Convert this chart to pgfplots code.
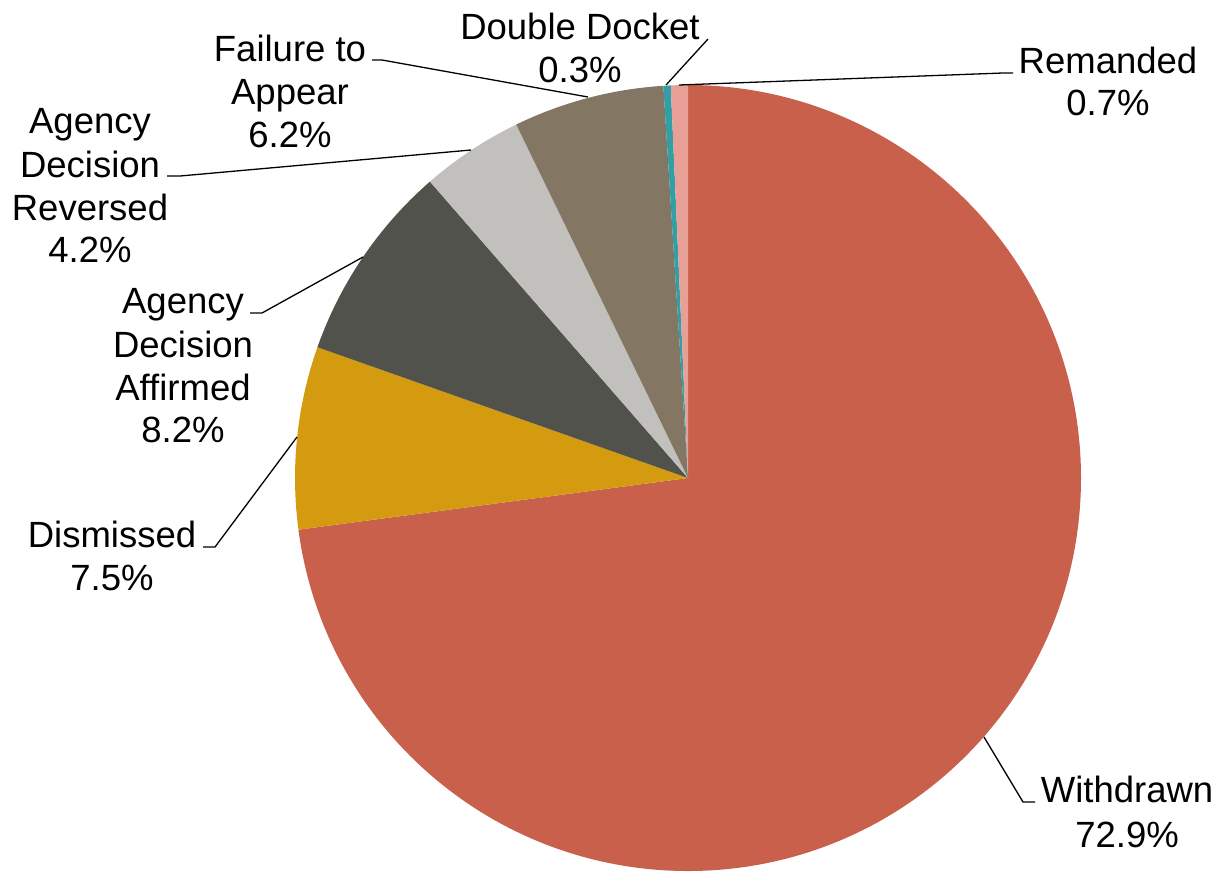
\documentclass[border=0pt]{standalone}
\usepackage{pgfplots}
\pgfplotsset{compat=1.18}
\usepackage{pgfplotstable}
\usepackage{fontspec}
\setmainfont{Liberation Sans}

\definecolor{cWithdrawn}{RGB}{200,96,75}
\definecolor{cDismissed}{RGB}{212,155,16}
\definecolor{cAffirmed}{RGB}{82,82,77}
\definecolor{cReversed}{RGB}{193,192,188}
\definecolor{cFailure}{RGB}{131,118,99}
\definecolor{cDouble}{RGB}{50,158,165}
\definecolor{cRemanded}{RGB}{232,160,150}

% shares in percent, clockwise from 12 o'clock
\pgfplotstableread{
value colour
72.9  cWithdrawn
7.5   cDismissed
8.2   cAffirmed
4.2   cReversed
6.2   cFailure
0.3   cDouble
0.7   cRemanded
}\piedata

\newcommand\startangle{90}

\begin{document}
\begin{tikzpicture}[font=\fontsize{36.5}{42}\selectfont]
\begin{axis}[
  hide axis,
  x=1pt, y=1pt,
  xmin=0, xmax=1220,
  ymin=0, ymax=870,
  y dir=reverse,
  clip=false,
]
  \path (axis cs:0,0) rectangle (axis cs:1220,870);

  \pgfplotsinvokeforeach{0,...,6}{%
    \pgfplotstablegetelem{#1}{value}\of\piedata
    \let\sliceval\pgfplotsretval
    \pgfplotstablegetelem{#1}{colour}\of\piedata
    \let\slicecol\pgfplotsretval
    \pgfmathsetmacro\endangle{\startangle-3.6*\sliceval}
    \edef\doslice{\noexpand\fill[\slicecol] (axis cs:688,478) -- ++(\startangle:393pt)
      arc[start angle=\startangle, end angle=\endangle, radius=393pt] -- cycle;}
    \doslice
    \global\let\startangle\endangle
  }

  % leader lines
  \begin{scope}[line width=1.3pt]
    \draw (axis cs:1013,73) -- (axis cs:1003,73) -- (axis cs:679,85);
    \draw (axis cs:708,39) -- (axis cs:666,85);
    \draw (axis cs:372,60) -- (axis cs:382,60) -- (axis cs:588,97);
    \draw (axis cs:167,176) -- (axis cs:180,176) -- (axis cs:471,150);
    \draw (axis cs:250,313) -- (axis cs:262,313) -- (axis cs:363,257);
    \draw (axis cs:203,547) -- (axis cs:215,547) -- (axis cs:297,437);
    \draw (axis cs:1035,802) -- (axis cs:1023,802) -- (axis cs:984,737);
  \end{scope}

  % labels
  \begin{scope}[every node/.style={anchor=base, inner sep=0pt}]
    \node at (axis cs:1108,73) {Remanded};
    \node at (axis cs:1108,115) {0.7\%};
    \node at (axis cs:580,39) {Double Docket};
    \node at (axis cs:580,82) {0.3\%};
    \node at (axis cs:290,61) {Failure to};
    \node at (axis cs:290,104) {Appear};
    \node at (axis cs:290,147) {6.2\%};
    \node at (axis cs:90,133) {Agency};
    \node at (axis cs:90,177) {Decision};
    \node at (axis cs:90,220) {Reversed};
    \node at (axis cs:90,262) {4.2\%};
    \node at (axis cs:183,313) {Agency};
    \node at (axis cs:183,357) {Decision};
    \node at (axis cs:183,400) {Affirmed};
    \node at (axis cs:183,442) {8.2\%};
    \node at (axis cs:112,547) {Dismissed};
    \node at (axis cs:112,590) {7.5\%};
    \node at (axis cs:1127,802) {Withdrawn};
    \node at (axis cs:1127,847) {72.9\%};
  \end{scope}
\end{axis}
\end{tikzpicture}
\end{document}
